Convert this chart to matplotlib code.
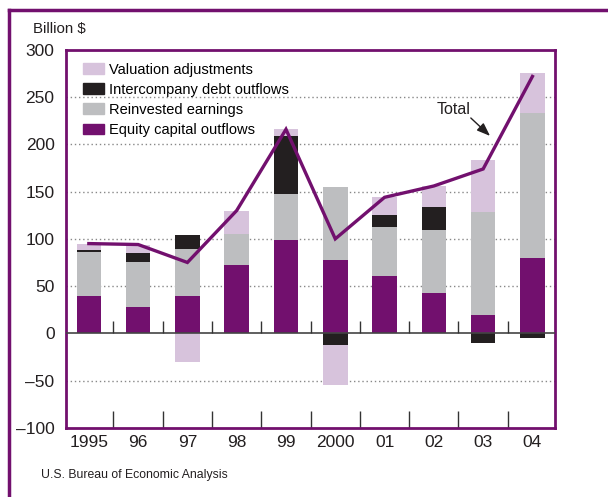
import matplotlib.pyplot as plt
import matplotlib.patches as mpatches
from matplotlib.lines import Line2D
import numpy as np

# data (billion $)
years = ["1995", "96", "97", "98", "99", "2000", "01", "02", "03", "04"]
equity = [40, 28, 40, 72, 99, 78, 61, 43, 19, 80]
reinvested = [46, 47, 49, 33, 49, 77, 52, 66, 109, 153]
debt = [2, 10, 15, 0, 61, -12, 12, 25, -10, -5]
valuation = [7, 9, -30, 25, 7, -43, 19, 22, 56, 43]
total = [95, 94, 75, 130, 216, 100, 144, 156, 174, 272]

PURPLE = "#72106e"
GRAY = "#bdbec0"
BLACK = "#231f20"
LILAC = "#d7c3dc"
INK = "#231f20"

plt.rcParams["font.family"] = ["Liberation Sans", "DejaVu Sans"]

fig = plt.figure(figsize=(6.08, 4.97), dpi=100)
ax = fig.add_axes([0.108, 0.1394, 0.805, 0.7600])

x = np.arange(len(years))
w = 0.5

# stack positives upward, negatives downward
pos_base = np.zeros(len(years))
neg_base = np.zeros(len(years))
for vals, col in [(equity, PURPLE), (reinvested, GRAY), (debt, BLACK), (valuation, LILAC)]:
    vals = np.array(vals, dtype=float)
    bottoms = np.where(vals >= 0, pos_base, neg_base)
    ax.bar(x, vals, w, bottom=bottoms, color=col, zorder=3)
    pos_base = pos_base + np.where(vals > 0, vals, 0)
    neg_base = neg_base + np.where(vals < 0, vals, 0)

ax.plot(x, total, color=PURPLE, lw=2.4, zorder=4, solid_joinstyle="miter")

ax.set_xlim(-0.47, 9.46)
ax.set_ylim(-100, 300)

# grid and zero line
for g in [-50, 50, 100, 150, 200, 250]:
    ax.axhline(g, color="#888888", lw=1, ls=(0, (1, 2)), zorder=1)
ax.axhline(0, color="#444444", lw=1.2, zorder=5)
bounds = np.arange(0.5, 9, 1)
ax.vlines(bounds, 0, 13.5, color="#333333", lw=1, zorder=5)

ax.set_yticks([-100, -50, 0, 50, 100, 150, 200, 250, 300])
ax.set_yticklabels(["\u2013100", "\u201350", "0", "50", "100", "150", "200", "250", "300"])
ax.tick_params(axis="y", length=0, pad=8, labelsize=12.5, colors=INK)
ax.set_xticks(x)
ax.set_xticklabels(years)
ax.tick_params(axis="x", which="major", length=0, pad=5, labelsize=12.5, colors=INK)
ax.set_xticks(bounds, minor=True)
ax.tick_params(axis="x", which="minor", direction="in", length=12, width=1, color="#333333")

for s in ax.spines.values():
    s.set_color(PURPLE)
    s.set_linewidth(2)

# legend
handles = [mpatches.Patch(color=LILAC, label="Valuation adjustments"),
           mpatches.Patch(color=BLACK, label="Intercompany debt outflows"),
           mpatches.Patch(color=GRAY, label="Reinvested earnings"),
           mpatches.Patch(color=PURPLE, label="Equity capital outflows")]
ax.legend(handles=handles, loc="upper left", bbox_to_anchor=(0.024, 0.982),
          frameon=False, borderaxespad=0, handlelength=1.45, handleheight=0.75,
          handletextpad=0.3, labelspacing=0.42, prop={"size": 10.5})

ax.text(7.4, 237.5, "Total", ha="center", va="center", fontsize=11.5, color=INK)
ax.annotate("", xy=(8.14, 209), xytext=(7.75, 228),
            arrowprops=dict(arrowstyle="-|>,head_length=0.8,head_width=0.3",
                            color=INK, lw=1, shrinkA=0, shrinkB=0))

fig.text(33 / 608, 1 - 29 / 497, "Billion $", fontsize=10.8,
         va="center", ha="left", color=INK)
fig.text(41 / 608, 1 - 475 / 497, "U.S. Bureau of Economic Analysis", fontsize=8.8,
         va="center", ha="left", color=INK)

# outer frame
fig.add_artist(Line2D([8.5 / 608, 1], [1 - 10 / 497, 1 - 10 / 497], color=PURPLE, lw=2.5,
                      transform=fig.transFigure))
fig.add_artist(Line2D([8.5 / 608, 8.5 / 608], [0, 1 - 10 / 497], color=PURPLE, lw=2.5,
                      transform=fig.transFigure))

fig.savefig("out.png", dpi=100)
